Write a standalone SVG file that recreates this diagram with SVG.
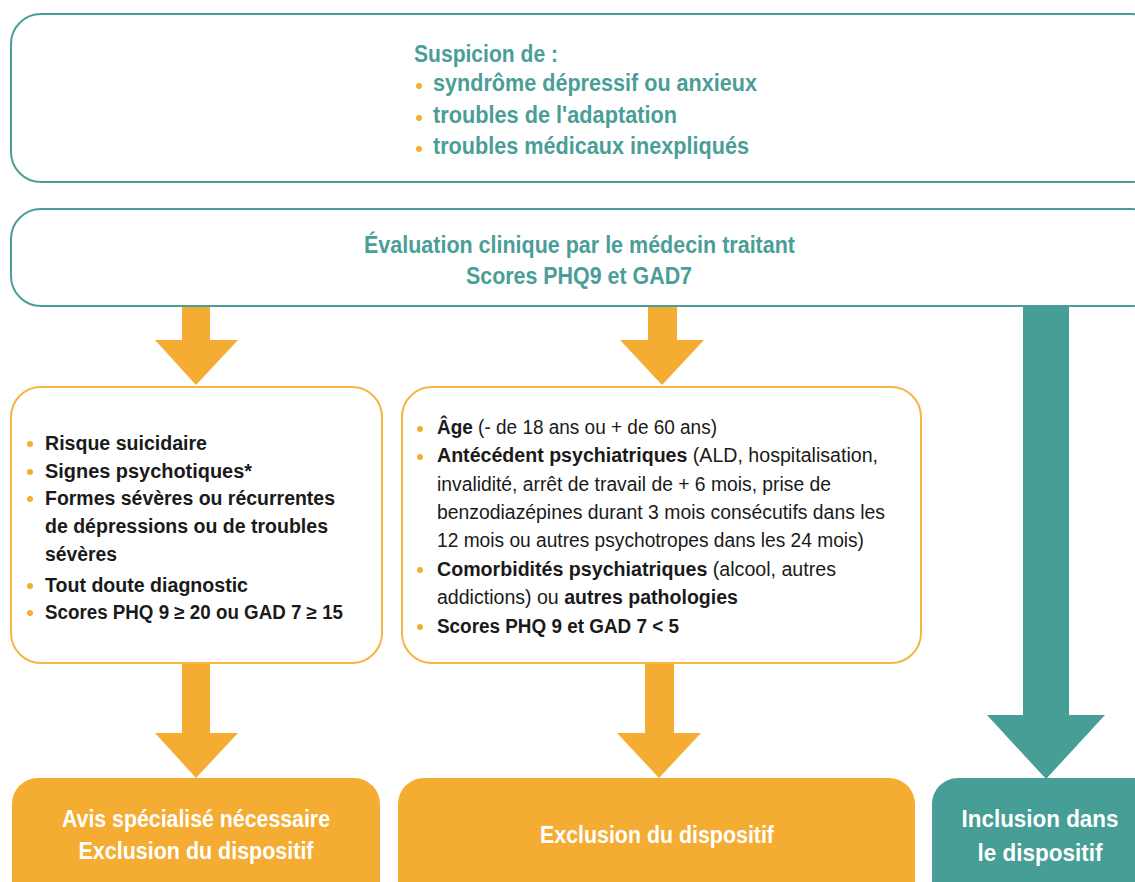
<svg xmlns="http://www.w3.org/2000/svg" width="1135" height="882" viewBox="0 0 1135 882">
<style>
.tbox{fill:#fff;stroke:#4a9e97;stroke-width:2}
.obox{fill:#fff;stroke:#f5b443;stroke-width:2}
.ofill{fill:#f5ac33}
.tfill{fill:#469e96}
.tt{font-family:"Liberation Sans",Arial,sans-serif;font-weight:bold;font-size:23px;fill:#4a9e97}
.bt{font-family:"Liberation Sans",Arial,sans-serif;font-size:19.5px;fill:#1a1a1a}
.b{font-weight:bold}
.wt{font-family:"Liberation Sans",Arial,sans-serif;font-weight:bold;font-size:23px;fill:#fff;text-anchor:middle}
.dot{fill:#f5ac33}
</style>
<g id="connectors">
<rect class="ofill" x="182" y="306" width="28" height="36"/>
<polygon class="ofill" points="155,340 238,340 196,385"/>
<rect class="ofill" x="648" y="306" width="29" height="36"/>
<polygon class="ofill" points="620,340 704,340 662,385"/>
<rect class="ofill" x="182" y="662" width="28" height="73"/>
<polygon class="ofill" points="155,733 238,733 196,778"/>
<rect class="ofill" x="645" y="662" width="29" height="73"/>
<polygon class="ofill" points="617,733 701,733 659,778"/>
<rect class="tfill" x="1023" y="306" width="46" height="412"/>
<polygon class="tfill" points="987,715 1105,715 1046,779"/>
</g>
<g id="suspicion">
<rect class="tbox" x="11" y="14" width="1150" height="168" rx="30"/>
<text class="tt" x="414" y="62" textLength="144" lengthAdjust="spacingAndGlyphs">Suspicion de :</text>
<circle class="dot" cx="419" cy="86" r="3"/>
<text class="tt" x="433" y="91" textLength="324" lengthAdjust="spacingAndGlyphs">syndrôme dépressif ou anxieux</text>
<circle class="dot" cx="419" cy="118" r="3"/>
<text class="tt" x="433" y="123" textLength="244" lengthAdjust="spacingAndGlyphs">troubles de l'adaptation</text>
<circle class="dot" cx="419" cy="149" r="3"/>
<text class="tt" x="433" y="154" textLength="316" lengthAdjust="spacingAndGlyphs">troubles médicaux inexpliqués</text>
</g>
<g id="evaluation">
<rect class="tbox" x="11" y="209" width="1150" height="97" rx="30"/>
<text class="tt" x="364" y="253" textLength="431" lengthAdjust="spacingAndGlyphs">Évaluation clinique par le médecin traitant</text>
<text class="tt" x="466" y="284" textLength="226" lengthAdjust="spacingAndGlyphs">Scores PHQ9 et GAD7</text>
</g>
<g id="criteres-avis">
<rect class="obox" x="11" y="387" width="371" height="276" rx="30"/>
<circle class="dot" cx="30" cy="444" r="3"/>
<text class="bt b" x="45" y="450" textLength="162" lengthAdjust="spacingAndGlyphs">Risque suicidaire</text>
<circle class="dot" cx="30" cy="472" r="3"/>
<text class="bt b" x="45" y="478" textLength="207" lengthAdjust="spacingAndGlyphs">Signes psychotiques*</text>
<circle class="dot" cx="30" cy="499" r="3"/>
<text class="bt b" x="45" y="505" textLength="290" lengthAdjust="spacingAndGlyphs">Formes sévères ou récurrentes</text>
<text class="bt b" x="45" y="533" textLength="283" lengthAdjust="spacingAndGlyphs">de dépressions ou de troubles</text>
<text class="bt b" x="45" y="561" textLength="72" lengthAdjust="spacingAndGlyphs">sévères</text>
<circle class="dot" cx="30" cy="586" r="3"/>
<text class="bt b" x="45" y="592" textLength="203" lengthAdjust="spacingAndGlyphs">Tout doute diagnostic</text>
<circle class="dot" cx="30" cy="613" r="3"/>
<text class="bt b" x="45" y="619" textLength="298" lengthAdjust="spacingAndGlyphs">Scores PHQ 9 ≥ 20 ou GAD 7 ≥ 15</text>
</g>
<g id="criteres-exclusion">
<rect class="obox" x="402" y="387" width="519" height="276" rx="30"/>
<circle class="dot" cx="420" cy="429" r="3"/>
<text class="bt" x="437" y="434" textLength="280" lengthAdjust="spacingAndGlyphs"><tspan class="b">Âge</tspan> (- de 18 ans ou + de 60 ans)</text>
<circle class="dot" cx="420" cy="457" r="3"/>
<text class="bt" x="437" y="462" textLength="441" lengthAdjust="spacingAndGlyphs"><tspan class="b">Antécédent psychiatriques</tspan> (ALD, hospitalisation,</text>
<text class="bt" x="437" y="491" textLength="394" lengthAdjust="spacingAndGlyphs">invalidité, arrêt de travail de + 6 mois, prise de</text>
<text class="bt" x="437" y="519" textLength="448" lengthAdjust="spacingAndGlyphs">benzodiazépines durant 3 mois consécutifs dans les</text>
<text class="bt" x="437" y="547" textLength="427" lengthAdjust="spacingAndGlyphs">12 mois ou autres psychotropes dans les 24 mois)</text>
<circle class="dot" cx="420" cy="570" r="3"/>
<text class="bt" x="437" y="576" textLength="399" lengthAdjust="spacingAndGlyphs"><tspan class="b">Comorbidités psychiatriques</tspan> (alcool, autres</text>
<text class="bt" x="437" y="604" textLength="301" lengthAdjust="spacingAndGlyphs">addictions) ou <tspan class="b">autres pathologies</tspan></text>
<circle class="dot" cx="420" cy="627" r="3"/>
<text class="bt b" x="437" y="633" textLength="242" lengthAdjust="spacingAndGlyphs">Scores PHQ 9 et GAD 7 &lt; 5</text>
</g>
<g id="avis-specialise">
<rect class="ofill" x="12" y="778" width="368" height="140" rx="26"/>
<text class="wt" x="196" y="827" textLength="268" lengthAdjust="spacingAndGlyphs">Avis spécialisé nécessaire</text>
<text class="wt" x="196" y="859" textLength="235" lengthAdjust="spacingAndGlyphs">Exclusion du dispositif</text>
</g>
<g id="exclusion">
<rect class="ofill" x="398" y="778" width="517" height="140" rx="26"/>
<text class="wt" x="657" y="843" textLength="234" lengthAdjust="spacingAndGlyphs">Exclusion du dispositif</text>
</g>
<g id="inclusion">
<rect class="tfill" x="932" y="778" width="230" height="140" rx="26"/>
<text class="wt" x="1040" y="827" textLength="157" lengthAdjust="spacingAndGlyphs">Inclusion dans</text>
<text class="wt" x="1040" y="861" textLength="125" lengthAdjust="spacingAndGlyphs">le dispositif</text>
</g>
</svg>
